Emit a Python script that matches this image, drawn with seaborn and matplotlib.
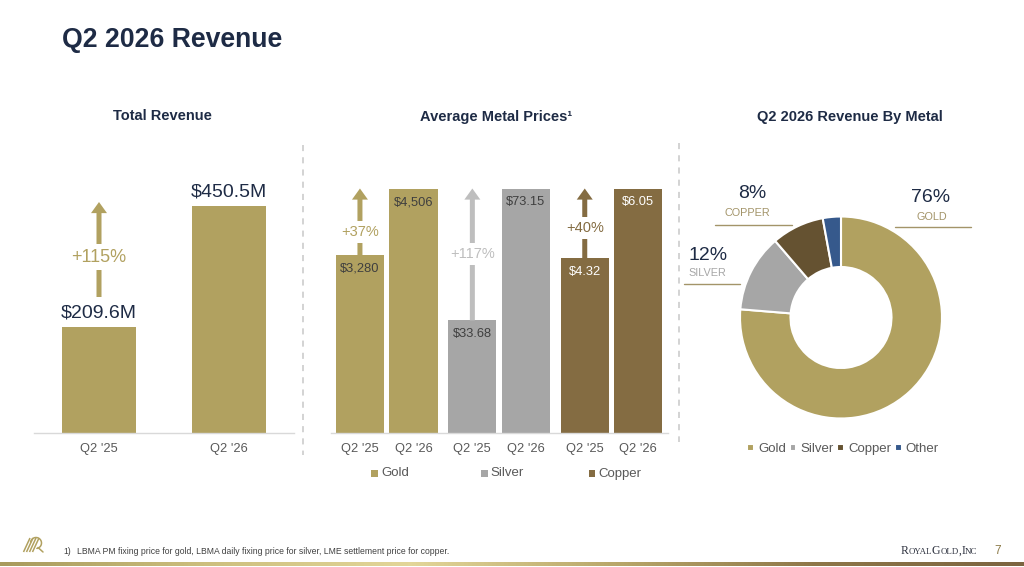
import numpy as np
import pandas as pd
import matplotlib
matplotlib.use("Agg")
import matplotlib.pyplot as plt
import seaborn as sns
from matplotlib.patches import Rectangle
from matplotlib.colors import LinearSegmentedColormap
from matplotlib.offsetbox import TextArea, HPacker, AnnotationBbox

# ---------------- data ----------------
rev_quarters = ["Q2 '25", "Q2 '26"]
rev_values = [209.6, 450.5]
rev_labels = ["$209.6M", "$450.5M"]
rev_change = "+115%"

metals = ["Gold", "Silver", "Copper"]
price_quarters = ["Q2 '25", "Q2 '26"]
price_q225 = [3280, 33.68, 4.32]
price_q226 = [4506, 73.15, 6.05]
price_labels_q225 = ["$3,280", "$33.68", "$4.32"]
price_labels_q226 = ["$4,506", "$73.15", "$6.05"]
price_changes = ["+37%", "+117%", "+40%"]

mix_metals = ["Gold", "Silver", "Copper", "Other"]
mix_share = [76.3, 12.4, 8.4, 2.9]

# ---------------- style ----------------
sns.set_theme(style="white")
plt.rcParams["font.family"] = ["Liberation Sans", "DejaVu Sans"]

NAVY = "#1E2B45"
GOLD = "#B1A160"
SILVER = "#A6A6A6"
SILVER_LT = "#BEBEBE"
COPPER = "#846C42"
COPPER_DK = "#655231"
OTHER = "#36598C"
TICK = "#595959"
LINE_GOLD = "#A39469"

W, H = 1024, 567
fig = plt.figure(figsize=(W / 100, H / 100), dpi=100)
fig.patch.set_facecolor("white")


def px_axes(l, t, r, b):
    return fig.add_axes([l / W, 1 - b / H, (r - l) / W, (b - t) / H])


def style_bar_axes(ax):
    for s in ["left", "top", "right"]:
        ax.spines[s].set_visible(False)
    ax.spines["bottom"].set_color("#D9D9D9")
    ax.spines["bottom"].set_linewidth(1.0)
    ax.set_yticks([])
    ax.set_xlabel("")
    ax.set_ylabel("")
    ax.tick_params(axis="x", length=0, pad=7, labelsize=9.3, labelcolor=TICK)
    ax.patch.set_alpha(0)


def arrow(ax, x, y0, y1, color, shrinkA=0, shrinkB=0):
    ax.annotate("", xy=(x, y1), xytext=(x, y0), textcoords="data",
                arrowprops=dict(arrowstyle="simple,head_length=0.8,head_width=1.15,tail_width=0.36",
                                mutation_scale=10, color=color, lw=0,
                                shrinkA=shrinkA, shrinkB=shrinkB))


# ---------------- left: total revenue ----------------
L_BOT, L_TOP_VMAX, L_AX_TOP = 433, 206, 140
axL = px_axes(34, L_AX_TOP, 294, L_BOT)
df_rev = pd.DataFrame({"quarter": rev_quarters, "revenue": rev_values})
sns.barplot(data=df_rev, x="quarter", y="revenue", color=GOLD, saturation=1,
            width=0.57, ax=axL)
for p in axL.patches:
    p.set_edgecolor("none")
ymaxL = max(rev_values) * (L_BOT - L_AX_TOP) / (L_BOT - L_TOP_VMAX)
axL.set_ylim(0, ymaxL)
axL.set_xlim(-0.5, 1.5)
style_bar_axes(axL)
for i, v in enumerate(rev_values):
    axL.annotate(rev_labels[i], (i, v), xytext=(0, 10), textcoords="offset points",
                 ha="center", va="center", fontsize=14, color=NAVY)


def pxy_L(p):
    return (L_BOT - p) * ymaxL / (L_BOT - L_AX_TOP)


arrow(axL, 0, pxy_L(297), pxy_L(202), GOLD)
axL.text(0, pxy_L(257), rev_change, ha="center", va="center", fontsize=13, color=GOLD,
         bbox=dict(boxstyle="square,pad=0.25", fc="white", ec="none"))

# ---------------- middle: metal prices ----------------
M_BOT, M_TOP1, M_AX_TOP = 433, 188.5, 140
axM = px_axes(330.5, M_AX_TOP, 667.7, M_BOT)
rows = []
for m, a, b in zip(metals, price_q225, price_q226):
    top = max(a, b)
    rows.append({"metal": m, "quarter": price_quarters[0], "price": a, "norm": a / top})
    rows.append({"metal": m, "quarter": price_quarters[1], "price": b, "norm": b / top})
dfp = pd.DataFrame(rows)
sns.barplot(data=dfp, x="metal", y="norm", hue="quarter", dodge=True, width=0.952,
            gap=0.1, saturation=1, legend=False, ax=axM,
            palette=[GOLD, GOLD])
metal_colors = [GOLD, SILVER, COPPER]
label_colors = ["#3F3F3F", "#3F3F3F", "white"]
arrow_colors = [GOLD, SILVER_LT, COPPER]
change_colors = [GOLD, SILVER_LT, COPPER]
centers = {}
for p in axM.patches:
    cx = p.get_x() + p.get_width() / 2
    mi = int(round(cx))
    qi = 0 if cx < mi else 1
    p.set_facecolor(metal_colors[mi])
    p.set_edgecolor("none")
    centers[(mi, qi)] = cx
ymaxM = (M_BOT - M_AX_TOP) / (M_BOT - M_TOP1)
axM.set_ylim(0, ymaxM)
axM.set_xlim(-0.5, 2.5)
style_bar_axes(axM)
tick_pos, tick_lab = [], []
for mi in range(3):
    for qi in range(2):
        tick_pos.append(centers[(mi, qi)])
        tick_lab.append(price_quarters[qi])
axM.set_xticks(tick_pos, tick_lab)


def pxy_M(p):
    return (M_BOT - p) * ymaxM / (M_BOT - M_AX_TOP)


change_text_px = [232, 254, 228]
for mi in range(3):
    a, b = price_q225[mi], price_q226[mi]
    top = max(a, b)
    x0, x1 = centers[(mi, 0)], centers[(mi, 1)]
    axM.annotate(price_labels_q225[mi], (x0, a / top), xytext=(0, -10), textcoords="offset points",
                 ha="center", va="center", fontsize=9.3, color=label_colors[mi])
    axM.annotate(price_labels_q226[mi], (x1, b / top), xytext=(0, -10), textcoords="offset points",
                 ha="center", va="center", fontsize=9.3, color=label_colors[mi])
    arrow(axM, x0, a / top, 1.0, arrow_colors[mi])
    axM.text(x0, pxy_M(change_text_px[mi]), price_changes[mi], ha="center", va="center",
             fontsize=10.5, color=change_colors[mi],
             bbox=dict(boxstyle="square,pad=0.3", fc="white", ec="none"))

# ---------------- right: donut ----------------
CX, CY, R = 841, 317.5, 101
axP = px_axes(CX - R, CY - R, CX + R, CY + R)
wedges, _ = axP.pie(mix_share, colors=[GOLD, SILVER, COPPER_DK, OTHER], startangle=90,
                    counterclock=False, radius=1,
                    wedgeprops=dict(width=0.5, edgecolor="white", linewidth=1.5))
axP.set_xlim(-1, 1)
axP.set_ylim(-1, 1)
axP.set_aspect("equal")
axP.legend(wedges, mix_metals, ncol=4, loc="center",
           bbox_to_anchor=(843 / W, 1 - 449 / H), bbox_transform=fig.transFigure,
           frameon=False, handlelength=0.5, handleheight=0.5, handletextpad=0.3,
           columnspacing=0.3, fontsize=9.5, labelcolor=TICK, borderpad=0)

# ---------------- overlay (titles, annotations, footer) ----------------
ov = fig.add_axes([0, 0, 1, 1])
ov.set_xlim(0, W)
ov.set_ylim(H, 0)
ov.axis("off")
ov.patch.set_alpha(0)

ov.text(62, 40, "Q2 2026 Revenue", fontsize=19.2, weight="bold", color=NAVY, va="center")
ov.text(162.7, 116.5, "Total Revenue", fontsize=10.5, weight="bold", color=NAVY,
        ha="center", va="center")
ov.text(496.5, 116.5, "Average Metal Prices\u00b9", fontsize=10.5, weight="bold", color=NAVY,
        ha="center", va="center")
ov.text(850, 116.5, "Q2 2026 Revenue By Metal", fontsize=10.5, weight="bold", color=NAVY,
        ha="center", va="center")

# separators
for x, y0, y1 in [(303, 145, 455), (679, 143, 442)]:
    ov.plot([x, x], [y0, y1], color="#C8C8C8", lw=1.1, ls=(0, (4, 4)))

# middle legend
for (sx, tx), name, col in zip([(371, 381), (481, 490), (588.5, 598)], metals, metal_colors):
    ov.add_patch(Rectangle((sx, 470), 6.6, 6.6, color=col, lw=0))
    ov.text(tx, 473.5, name, fontsize=9.5, color=TICK, va="center", ha="left")

# donut annotations
pct = [f"{round(v):d}%" for v in mix_share]
ov.text(931, 198, pct[0], fontsize=14, color=NAVY, ha="center", va="center")
ov.text(932, 216.5, "GOLD", fontsize=7.8, color=LINE_GOLD, ha="center", va="center")
ov.plot([895, 971], [227, 227], color=LINE_GOLD, lw=1.0)
ov.text(752, 193, pct[2], fontsize=14, color=NAVY, ha="center", va="center")
ov.text(747, 212.5, "COPPER", fontsize=7.8, color=LINE_GOLD, ha="center", va="center")
ov.plot([715, 792], [225, 225], color=LINE_GOLD, lw=1.0)
ov.text(708, 255, pct[1], fontsize=14, color=NAVY, ha="center", va="center")
ov.text(707, 273, "SILVER", fontsize=7.8, color=SILVER, ha="center", va="center")
ov.plot([684, 740], [284.3, 284.3], color=LINE_GOLD, lw=1.0)

# footer
ov.text(63, 551, "1)", fontsize=6.2, color="#404040", va="center")
ov.text(77, 551, "LBMA PM fixing price for gold, LBMA daily fixing price for silver, "
                 "LME settlement price for copper.", fontsize=6.2, color="#404040", va="center")

# logo (simple stylised mark)
for k in range(4):
    ov.plot([23.5 + 3 * k, 30 + 3 * k], [552, 538], color=GOLD, lw=1.1,
            solid_capstyle="butt")
th = np.linspace(np.pi * 0.95, -np.pi * 0.45, 30)
ov.plot(36 + 5.5 * np.cos(th), 543 - 5.5 * np.sin(th), color=GOLD, lw=1.1)
ov.plot([38, 43], [547.5, 552], color=GOLD, lw=1.1)

# company mark (small caps)
parts = [("R", 8.5), ("OYAL", 6.4), ("G", 8.5), ("OLD", 6.4), (",", 8.5), ("I", 8.5), ("NC", 6.4)]
tas = [TextArea(t, textprops=dict(fontsize=s, family=["Liberation Serif", "DejaVu Serif"],
                                  color="#2F3340")) for t, s in parts]
pack = HPacker(children=tas, align="baseline", pad=0, sep=0)
ab = AnnotationBbox(pack, (939 / W, 1 - 551 / H), xycoords="figure fraction",
                    frameon=False, box_alignment=(0.5, 0.5), pad=0)
fig.add_artist(ab)
ov.text(998, 551, "7", fontsize=8.5, color="#8C7A48", ha="center", va="center")

# bottom gradient rule
axG = px_axes(0, 561.5, W, 566)
cmap = LinearSegmentedColormap.from_list("g", ["#A89A5C", "#CDBF7E", "#E3D699",
                                                "#B9A76A", "#8E7648", "#7C6440"])
axG.imshow(np.linspace(0, 1, 256)[None, :], aspect="auto", cmap=cmap)
axG.axis("off")

fig.savefig("out.png", dpi=100)
